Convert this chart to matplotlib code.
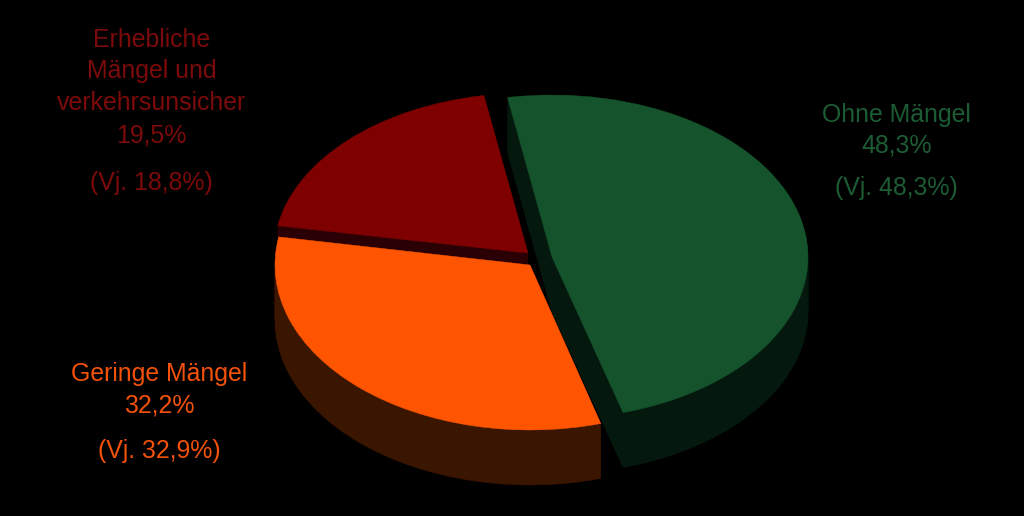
import matplotlib
matplotlib.use("Agg")
import matplotlib.pyplot as plt
from matplotlib.patches import Wedge
from matplotlib.transforms import Affine2D

plt.rcParams['font.family'] = ['Liberation Sans', 'DejaVu Sans']

categories = ["Ohne Mängel", "Geringe Mängel", "Erhebliche\nMängel und\nverkehrsunsicher"]
values = [48.3, 32.2, 19.5]
previous = [48.3, 32.9, 18.8]
top_colors = ["#14532B", "#FF5500", "#7F0000"]
side_colors = ["#05180E", "#3A1500", "#2A0004"]
text_colors = ["#1C5C34", "#F4520A", "#7D0A0A"]
# centre x, centre y, radius x, radius y (pixels)
geometry = [(552, 257, 256, 162), (530, 265, 255, 165), (528, 253, 254, 160)]
label_x = [896.5, 159.5, 151.5]
label_baselines = [[122, 152, 195], [381, 412, 458], [47, 78, 110, 142, 190]]
start_angle = 100
depth = 55

def fmt(v):
    return f"{v:.1f}%".replace(".", ",")

fig = plt.figure(figsize=(10.24, 5.16), dpi=100, facecolor="black")
ax = fig.add_axes([0, 0, 1, 1])
ax.set_xlim(0, 1024)
ax.set_ylim(516, 0)
ax.axis("off")

angles = []
a = start_angle
for v in values:
    angles.append((a - v * 3.6, a))
    a -= v * 3.6

def slice_patch(i, dy, color, z):
    cx, cy, rx, ry = geometry[i]
    tr = Affine2D().scale(rx, -ry).translate(cx, cy + dy) + ax.transData
    w = Wedge((0, 0), 1, angles[i][0], angles[i][1], facecolor=color,
              edgecolor=color, linewidth=0.3, transform=tr, zorder=z)
    ax.add_patch(w)

# side walls: green first, then red, then orange; top faces last
for z, i in enumerate([0, 2, 1]):
    for dy in range(depth, 0, -1):
        slice_patch(i, dy, side_colors[i], 1 + z)
for i in range(3):
    slice_patch(i, 0, top_colors[i], 10)

for i, x in enumerate(label_x):
    lines = categories[i].split("\n") + [fmt(values[i]), f"(Vj. {fmt(previous[i])})"]
    for ln, y in zip(lines, label_baselines[i]):
        ax.text(x, y, ln, color=text_colors[i], fontsize=17.9, ha="center", va="baseline")

fig.savefig("out.png", dpi=100, facecolor="black")
